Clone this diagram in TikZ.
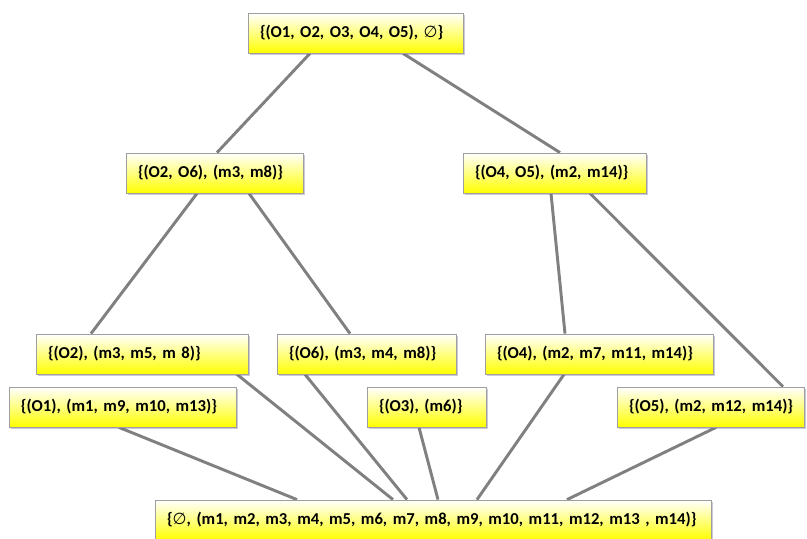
\documentclass[tikz,border=0pt]{standalone}
\usepackage{fontspec}
\setmainfont{Carlito}
\newfontfamily\symfont{DejaVu Sans}
\usetikzlibrary{calc,shadows,backgrounds}
\newcommand{\es}{{\symfont\mdseries\fontsize{12}{14}\selectfont ∅}}
\tikzset{
  setbox/.style={draw=gray!75, line width=0.6pt,
    top color=white, middle color=yellow!30, bottom color=yellow,
    drop shadow={shadow xshift=1.6pt, shadow yshift=-1.6pt, opacity=0.35, fill=gray!80!blue},
    minimum width=#1*0.75pt, minimum height=30pt,
    inner xsep=9pt, inner ysep=0pt, text width=#1*0.75pt-18pt, align=left,
    execute at begin node={\leavevmode\hbox\bgroup}, execute at end node={\egroup},
    font=\bfseries\fontsize{12.5}{14}\selectfont},
  link/.style={draw=gray, line width=2.2pt}
}
\begin{document}
\begin{tikzpicture}[x=0.75pt,y=-0.75pt]
    \useasboundingbox (0,0) rectangle (807,539);
    %Top
    \node[setbox=215] (top) at (355.5,33) {\{(O1, O2, O3, O4, O5), \es\}};
    %Second row
    \node[setbox=177] (o2o6) at (214.5,173) {\{(O2, O6), (m3, m8)\}};
    \node[setbox=183] (o4o5) at (554.5,173) {\{(O4, O5), (m2, m14)\}};
    %Third row
    \node[setbox=212] (o2) at (142,354) {\{(O2), (m3, m5, m 8)\}};
    \node[setbox=179] (o6) at (366.5,354) {\{(O6), (m3, m4, m8)\}};
    \node[setbox=228] (o4) at (599,354) {\{(O4), (m2, m7, m11, m14)\}};
    \node[setbox=227] (o1) at (122.5,407) {\{(O1), (m1, m9, m10, m13)\}};
    \node[setbox=119] (o3) at (426.5,407) {\{(O3), (m6)\}};
    \node[setbox=187] (o5) at (710.5,407) {\{(O5), (m2, m12, m14)\}};
    %Bottom
    \node[setbox=556] (bot) at (433,520) {\{\es, (m1, m2, m3, m4, m5, m6, m7, m8, m9, m10, m11, m12, m13 , m14)\}};
    %Links
    \begin{scope}[on background layer]
    \draw[link] ($(top.south)+(-45.5,0)$) -- ($(o2o6.north)+(2.5,0)$);
    \draw[link] ($(top.south)+(47.5,0)$) -- ($(o4o5.north)+(5.5,0)$);
    \draw[link] ($(o2o6.south)+(-17.5,0)$) -- ($(o2.north)+(-51,0)$);
    \draw[link] ($(o2o6.south)+(34.5,0)$) -- ($(o6.north)+(-16.5,0)$);
    \draw[link] ($(o4o5.south)+(-3.5,0)$) -- ($(o4.north)+(-34,0)$);
    \draw[link] ($(o4o5.south)+(35.5,0)$) -- ($(o5.north)+(72.5,0)$);
    \draw[link] ($(o2.south)+(95,0)$) -- ($(bot.north)+(-40,0)$);
    \draw[link] ($(o6.south)+(-61.5,0)$) -- ($(bot.north)+(-26,0)$);
    \draw[link] ($(o1.south)+(-3.5,0)$) -- ($(bot.north)+(-136,0)$);
    \draw[link] ($(o3.south)+(-7.5,0)$) -- ($(bot.north)+(5,0)$);
    \draw[link] ($(o4.south)+(-35,0)$) -- ($(bot.north)+(44,0)$);
    \draw[link] ($(o5.south)+(5.5,0)$) -- ($(bot.north)+(134,0)$);
    \end{scope}
\end{tikzpicture}
\end{document}
